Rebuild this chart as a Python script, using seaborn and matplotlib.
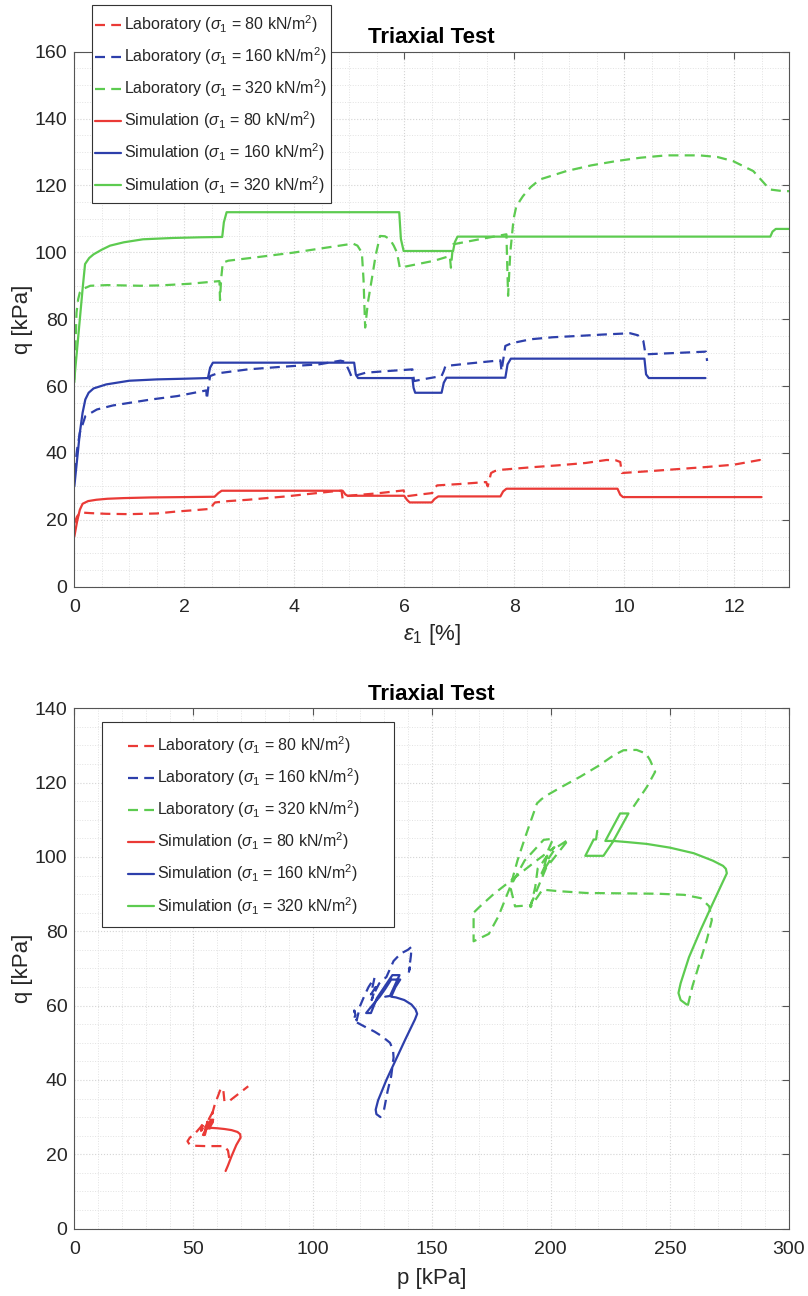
import matplotlib
matplotlib.use("Agg")
import matplotlib.pyplot as plt
from matplotlib.patches import Rectangle
from matplotlib.ticker import MultipleLocator
import pandas as pd
import seaborn as sns

# ---------------- data: top panel (axial strain [%] vs q [kPa]) ----------------
eps_lab80 = [0, 0.05, 0.11, 0.3, 0.58, 1.0, 1.5, 1.87, 2.2, 2.49, 2.52, 2.56, 2.8, 3.16, 3.5, 3.85,
             4.3, 4.7, 4.86, 4.88, 4.92, 5.05, 5.5, 5.99, 6.02, 6.25, 6.51, 6.55, 6.6, 7.0, 7.49, 7.52,
             7.58, 7.65, 7.79, 8.3, 8.8, 9.3, 9.68, 9.85, 9.93, 9.96, 10.5, 11.0, 11.5, 12.0, 12.47, 12.51]
q_lab80 = [19, 21, 22.2, 22.0, 21.8, 21.7, 21.9, 22.5, 22.9, 23.3, 24.5, 25.2, 25.6, 26, 26.5, 27,
           27.8, 28.5, 28.7, 26.3, 27.0, 27.3, 27.9, 28.8, 27.0, 27.5, 28.0, 29.5, 30.3, 30.7, 31.3, 30.0,
           34.0, 34.6, 35.0, 35.7, 36.3, 37.0, 37.9, 37.8, 37.3, 34.0, 34.6, 35.2, 35.8, 36.5, 37.9, 36.3]

eps_lab160 = [0, 0.05, 0.1, 0.2, 0.41, 0.7, 1.01, 1.4, 1.87, 2.4, 2.41, 2.44, 2.47, 2.6, 3.16, 3.8,
              4.45, 4.84, 4.92, 5.0, 5.05, 5.09, 5.3, 5.7, 6.15, 6.18, 6.4, 6.68, 6.72, 6.75, 7.2, 7.75,
              7.77, 7.84, 7.95, 8.3, 8.7, 9.17, 9.6, 10.11, 10.25, 10.35, 10.39, 10.8, 11.49, 11.51]
q_lab160 = [34, 41, 46, 51, 53, 54.2, 55, 56, 57, 58.7, 56, 60, 63, 63.8, 65, 65.8,
            66.5, 67.6, 67.3, 64.5, 62.5, 63, 64, 64.5, 65, 61.5, 62.2, 63, 64.5, 66, 66.8, 67.7,
            64.5, 72, 72.8, 74, 74.6, 75, 75.4, 75.8, 75.2, 73.5, 69.5, 69.8, 70.3, 67.5]

eps_lab320 = [0, 0.02, 0.04, 0.07, 0.1, 0.15, 0.29, 0.6, 1.2, 1.55, 2.1, 2.64, 2.65, 2.67, 2.7, 2.8,
              3.3, 3.98, 4.5, 5.07, 5.15, 5.23, 5.26, 5.29, 5.34, 5.41, 5.48, 5.56, 5.65, 5.74, 5.81,
              5.87, 5.92, 6.25, 6.55, 6.83, 6.85, 6.87, 6.89, 7.4, 7.86, 7.87, 7.89, 7.93, 7.99, 8.04,
              8.16, 8.3, 8.47, 8.95, 9.4, 9.86, 10.3, 10.77, 11.37, 11.7, 11.98, 12.35, 12.65, 12.89, 13.0]
q_lab320 = [61, 72, 82, 86, 88, 89, 90, 90.2, 90, 90.1, 90.6, 91.4, 85.7, 92, 96.9, 97.5,
            98.5, 99.9, 101.2, 102.6, 102, 99.9, 92, 77.5, 85, 91.9, 99, 104.9, 104.8, 103.9, 102,
            99.9, 95.4, 96.5, 97.5, 98.9, 95.4, 99, 102.4, 104, 105.4, 99, 87, 100, 110, 113.8,
            116.8, 119.5, 121.8, 124.3, 126, 127.3, 128.3, 129, 129, 128.5, 127.3, 124.3, 118.8, 118.3, 118.3]

eps_sim80 = [0, 0.05, 0.1, 0.15, 0.25, 0.4, 0.6, 0.9, 1.4, 2.0, 2.55, 2.62, 2.68, 4.88, 4.93, 4.97,
             6.0, 6.05, 6.1, 6.5, 6.55, 6.62, 7.75, 7.8, 7.86, 9.88, 9.93, 9.98, 12.5]
q_sim80 = [15, 19.5, 23, 24.8, 25.6, 26.0, 26.3, 26.5, 26.7, 26.8, 26.9, 28.0, 28.7, 28.7, 27.6, 27.2,
           27.2, 26, 25.2, 25.2, 26.2, 27.0, 27.0, 28.5, 29.3, 29.3, 27.5, 26.8, 26.8]

eps_sim160 = [0, 0.05, 0.1, 0.15, 0.2, 0.26, 0.35, 0.58, 1.0, 1.5, 2.0, 2.43, 2.47, 2.52, 5.09, 5.12,
              5.16, 6.15, 6.17, 6.2, 6.68, 6.72, 6.77, 7.84, 7.88, 7.94, 10.37, 10.4, 10.45, 11.48]
q_sim160 = [30, 38, 46, 52, 56, 58, 59.3, 60.5, 61.6, 62.0, 62.2, 62.4, 65.5, 67, 67, 63.5,
            62.4, 62.4, 59.5, 58, 58, 61, 62.5, 62.5, 66.5, 68.2, 68.2, 63.5, 62.4, 62.4]

eps_sim320 = [0, 0.05, 0.1, 0.15, 0.195, 0.27, 0.35, 0.5, 0.65, 0.9, 1.25, 1.8, 2.3, 2.69, 2.72, 2.77,
              5.91, 5.94, 5.99, 6.89, 6.92, 6.97, 12.66, 12.7, 12.76, 13.0]
q_sim320 = [62, 71, 80, 89, 96.5, 98.3, 99.4, 100.8, 102, 103, 103.9, 104.3, 104.5, 104.6, 109, 112,
            112, 104, 100.4, 100.4, 103, 104.7, 104.7, 106.2, 107, 107]

# ---------------- data: bottom panel (p [kPa] vs q [kPa]) ----------------
p_lab80 = [65, 64.5, 63, 60, 55, 50, 48.5, 47.5, 48.5, 50, 51.5, 53, 54.5, 53.2, 54.5, 56, 55, 56.5,
           58, 57.5, 59, 60.5, 61.5, 62.5, 63, 65, 69, 73]
pq_lab80 = [19, 21, 22.2, 22.2, 22.2, 22.3, 22.5, 23.5, 24.5, 25.2, 26.2, 27.3, 28.7, 26.3, 27.5, 28.8,
            27.2, 29.5, 31.3, 30.0, 33.5, 36, 37.8, 37.5, 34.3, 34.3, 36.3, 38.3]

p_lab160 = [130, 131.5, 133, 134, 133.8, 132.5, 129, 126, 122, 118.5, 117.3, 118, 117.5, 118.5, 120,
            122, 123.5, 125, 126, 124.5, 126.5, 124.8, 126, 128, 131, 134, 137, 140, 141.5, 141.3,
            140.5, 140.8, 140]
pq_lab160 = [32, 37, 41, 46, 48, 50, 51.8, 53, 54.3, 55.5, 56.3, 57.5, 58.7, 56, 60, 63, 65, 66.5,
             67.5, 63, 65, 61.5, 63.5, 66, 67.7, 72, 74, 75, 75.8, 73.5, 69.5, 70.3, 67.5]

p_lab320 = [257.5, 259.5, 262.5, 265.5, 267.6, 266.5, 263, 256, 245, 230, 215, 203, 196.5, 191.5,
            193.5, 194.5, 196, 198, 200, 201.5, 194, 185, 176, 170, 167.6, 167.6, 174, 178, 183, 189,
            197, 201, 199, 196.5, 197.5, 199.5, 196, 199, 202, 207.5, 198, 191.5, 185, 183, 186,
            189.3, 194.2, 196, 198.4, 205, 212.4, 220, 226.3, 230.5, 236, 240, 241.7, 243.8, 240.3, 234.7]
pq_lab320 = [60, 65.3, 71.5, 77.7, 83, 86.7, 88.9, 89.8, 90.1, 90.2, 90.3, 90.8, 91.2, 86.5,
             92, 96.9, 98, 99.9, 101.5, 102.6, 99, 94.5, 90, 86.5, 85, 77.3, 79.3, 84, 92, 99,
             104.6, 104.9, 102, 95.4, 97, 98.9, 95.4, 99.5, 102.4, 104.7, 97, 87, 86.7, 92, 99,
             105.4, 114.4, 115.5, 116.6, 119, 121.6, 124.5, 127.3, 128.7, 128.8, 127.8, 126, 122.9, 118.8, 113.5]

p_sim80 = [63.5, 64.5, 66, 68, 69.8, 69.6, 68.5, 66, 63, 60, 57.5, 56.5, 58.2, 57.2, 55.5, 54, 54.8,
           55.5, 58.3, 57.3, 55.5, 55]
pq_sim80 = [15.5, 17, 19.5, 22.5, 24.5, 25.4, 26.0, 26.5, 26.8, 27, 27.1, 26.9, 28.7, 28.7, 27.2,
            25.2, 25.2, 27.0, 29.3, 29.3, 26.8, 26.8]

p_sim160 = [128.5, 126.8, 126.5, 127.5, 131, 135, 139, 143, 143.9, 143.2, 141.5, 138.5, 135, 133,
            134.8, 136.8, 133, 130.5, 128.2, 125, 122.5, 124.5, 127, 133.5, 136.5, 132.5, 130.5]
pq_sim160 = [30, 30.8, 32, 34.5, 40, 45.5, 51, 56.3, 57.8, 59, 60.3, 61.5, 62.2, 62.4, 65, 67, 67,
             64.5, 62.4, 60, 58, 58, 62, 68.2, 68.2, 62.6, 62.4]

p_sim320 = [257, 254.5, 253.6, 254.5, 258, 263, 268, 272, 273.9, 273.5, 272.3, 268, 260, 250, 240.3,
            232, 226.3, 222.9, 226, 229.1, 232.6, 226, 222.1, 214.5, 216.5, 218, 219, 219.5]
pq_sim320 = [60.3, 61.5, 63.4, 66, 73, 80.5, 87.5, 93, 95.6, 96.8, 97.6, 99, 101, 102.5, 103.5, 104,
             104.3, 104.3, 108, 111.7, 111.7, 104, 100.3, 100.3, 102.8, 104.7, 104.7, 107]

legend_labels = [r'Laboratory ($\sigma_1$ = 80 kN/m$^2$)',
                 r'Laboratory ($\sigma_1$ = 160 kN/m$^2$)',
                 r'Laboratory ($\sigma_1$ = 320 kN/m$^2$)',
                 r'Simulation ($\sigma_1$ = 80 kN/m$^2$)',
                 r'Simulation ($\sigma_1$ = 160 kN/m$^2$)',
                 r'Simulation ($\sigma_1$ = 320 kN/m$^2$)']

RED, BLUE, GREEN = '#EA3A36', '#2D3FAB', '#5DCB50'

# ---------------- style ----------------
sns.set_theme(style="white")
plt.rcParams['font.family'] = ['Liberation Sans', 'DejaVu Sans']
plt.rcParams['mathtext.fontset'] = 'custom'
plt.rcParams['mathtext.rm'] = 'Liberation Sans'
plt.rcParams['mathtext.it'] = 'Liberation Sans:italic'
plt.rcParams['mathtext.bf'] = 'Liberation Sans:bold'
plt.rcParams['mathtext.fallback'] = 'stixsans'

fig = plt.figure(figsize=(8.08, 12.96), dpi=100)
ax1 = fig.add_axes([0.0920, 0.5473, 0.8845, 0.4128])
ax2 = fig.add_axes([0.0920, 0.0520, 0.8845, 0.4015])


def add_line(ax, x, y, color, dashed):
    df = pd.DataFrame({'x': x, 'y': y})
    sns.lineplot(data=df, x='x', y='y', ax=ax, color=color, sort=False,
                 estimator=None, linewidth=1.6, legend=False)
    line = ax.lines[-1]
    if dashed:
        line.set_dashes((4.5, 2.8))
    return line


def style_axes(ax, xlim, ylim, xmaj, xmin, ymaj, ymin):
    ax.set_xlim(*xlim)
    ax.set_ylim(*ylim)
    ax.xaxis.set_major_locator(MultipleLocator(xmaj))
    ax.xaxis.set_minor_locator(MultipleLocator(xmin))
    ax.yaxis.set_major_locator(MultipleLocator(ymaj))
    ax.yaxis.set_minor_locator(MultipleLocator(ymin))
    ax.set_axisbelow(True)
    ax.grid(True, which='major', color='#d4d4d4', linestyle=':', linewidth=0.8)
    ax.grid(True, which='minor', color='#e2e2e2', linestyle=':', linewidth=0.7)
    ax.tick_params(which='major', direction='in', length=5, width=0.8, top=True, right=True,
                   color='#555555', labelcolor='#262626', labelsize=14)
    ax.tick_params(which='minor', length=0, top=True, right=True)
    ax.tick_params(axis='x', pad=9)
    ax.tick_params(axis='y', pad=5)
    for s in ax.spines.values():
        s.set_visible(True)
        s.set_color('#555555')
        s.set_linewidth(0.8)
    ax.set_title('Triaxial Test', fontsize=16, fontweight='bold', pad=6, color='black')


def add_legend(ax, handles, anchor, box):
    leg = ax.legend(handles, legend_labels, loc='center left', bbox_to_anchor=anchor,
                    borderaxespad=0, borderpad=0, frameon=False, fontsize=11.5,
                    handlelength=1.6, handletextpad=0.2, labelspacing=0.65)
    for t in leg.get_texts():
        t.set_color('#262626')
    x0, y0, x1, y1 = box
    rect = Rectangle((x0, y0), x1 - x0, y1 - y0, transform=ax.transAxes, clip_on=False,
                     facecolor='white', edgecolor='#333333', linewidth=0.8, zorder=4.5)
    ax.add_patch(rect)
    leg.set_zorder(5)


# ---------------- top panel ----------------
h1 = [add_line(ax1, eps_lab80, q_lab80, RED, True),
      add_line(ax1, eps_lab160, q_lab160, BLUE, True),
      add_line(ax1, eps_lab320, q_lab320, GREEN, True),
      add_line(ax1, eps_sim80, q_sim80, RED, False),
      add_line(ax1, eps_sim160, q_sim160, BLUE, False),
      add_line(ax1, eps_sim320, q_sim320, GREEN, False)]
style_axes(ax1, (0, 13), (0, 160), 2, 0.5, 20, 5)
ax1.set_xlabel(r'$\epsilon_1$ [%]', fontsize=16, labelpad=4, color='#262626')
ax1.set_ylabel('q [kPa]', fontsize=16, labelpad=1, color='#262626')
add_legend(ax1, h1, (0.029, 0.9013), (0.0243, 0.7172, 0.3592, 1.0873))

# ---------------- bottom panel ----------------
h2 = [add_line(ax2, p_lab80, pq_lab80, RED, True),
      add_line(ax2, p_lab160, pq_lab160, BLUE, True),
      add_line(ax2, p_lab320, pq_lab320, GREEN, True),
      add_line(ax2, p_sim80, pq_sim80, RED, False),
      add_line(ax2, p_sim160, pq_sim160, BLUE, False),
      add_line(ax2, p_sim320, pq_sim320, GREEN, False)]
style_axes(ax2, (0, 300), (0, 140), 50, 10, 20, 5)
ax2.set_xlabel('p [kPa]', fontsize=16, labelpad=7, color='#262626')
ax2.set_ylabel('q [kPa]', fontsize=16, labelpad=1, color='#262626')
add_legend(ax2, h2, (0.0756, 0.7748), (0.0383, 0.5797, 0.4477, 0.9731))

fig.savefig('out.png', dpi=100)
